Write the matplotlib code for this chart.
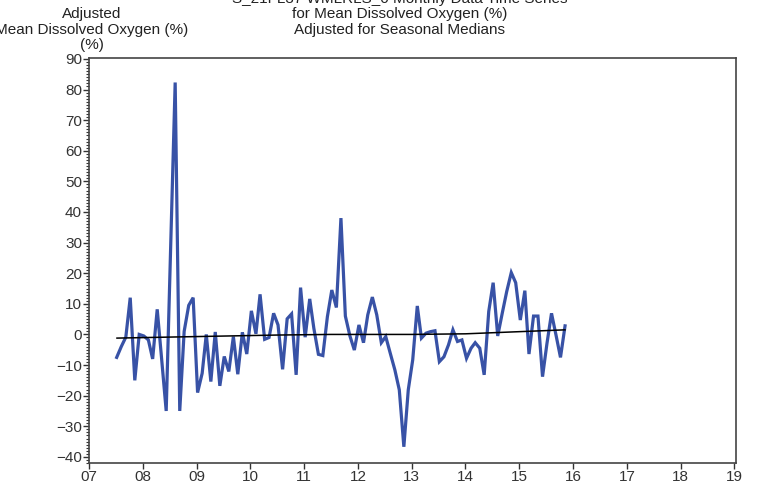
import numpy as np
import pandas as pd
import matplotlib
matplotlib.use("Agg")
import matplotlib.pyplot as plt
from matplotlib.ticker import MultipleLocator, FuncFormatter

plt.rcParams["font.family"] = ["Liberation Sans", "DejaVu Sans"]

# ---------- dados ----------
inicio = "2007-07-01"   # primeiro mes da serie (mensal)
oxigenio_ajustado = [
    -7.5, -4, -0.9, 12, -15, 0, -0.5, -1.8, -8, 8.2,
    -8, -25, 28, 82.3, -25, 1, 9.5, 12, -19, -12.7,
    0, -15.4, 0.8, -16.8, -7.2, -12.1, -0.7, -13, 0.7, -6.4,
    7.7, 0.2, 13.1, -1.6, -1, 6.9, 3.1, -11.4, 5.1, 6.7,
    -13.2, 15.3, -0.9, 11.6, 2, -6.5, -6.9, 5.8, 14.5, 8.8,
    38, 6, -0.5, -5.1, 3.1, -2.7, 6.4, 12.2, 6.4, -2.7,
    -0.7, -6.2, -11.6, -18.1, -36.7, -18.1, -8.3, 9.3, -1.2, 0.4,
    0.9, 1.2, -8.9, -7.3, -3.4, 1.5, -2.3, -1.8, -7.8, -4.5,
    -2.7, -4.5, -13.2, 7.5, 16.9, -0.5, 7, 14, 20.2, 16.9,
    4.7, 14.3, -6.4, 6, 6, -13.8, -3, 6.9, -0.3, -7.5,
    2.8,
]

# linha de tendencia
tendencia_anos = [2007.52, 2009.0, 2010.5, 2011.5, 2013.0, 2014.0, 2015.85]
tendencia_vals = [-1.2, -0.7, -0.2, 0.0, 0.0, 0.2, 1.5]

anos_ticks = list(range(2007, 2020))

datas = pd.date_range(inicio, periods=len(oxigenio_ajustado), freq="MS") + pd.Timedelta(days=7)
anos = datas.year + (datas.dayofyear - 1) / 365.25

# ---------- grafico ----------
fig = plt.figure(figsize=(7.59, 4.87), dpi=100)
ax = fig.add_axes([89 / 759, 1 - 463 / 487, (736 - 89) / 759, (463 - 58) / 487])

ax.plot(anos, oxigenio_ajustado, color="#3852a6", lw=2.3, solid_joinstyle="miter", zorder=2)
ax.plot(tendencia_anos, tendencia_vals, color="black", lw=1.1, zorder=3)

ax.set_xlim(2007, 2019.03)
ax.set_ylim(-42, 90.3)
ax.set_xticks(anos_ticks)
ax.xaxis.set_major_formatter(FuncFormatter(lambda v, p: "%02d" % (int(round(v)) % 100)))
ax.yaxis.set_major_locator(MultipleLocator(10))
ax.yaxis.set_minor_locator(MultipleLocator(1))

for s in ax.spines.values():
    s.set_color("#444444")
    s.set_linewidth(1.2)

ax.tick_params(axis="both", which="major", direction="out", length=4, width=1,
               color="#333333", labelcolor="#333333", labelsize=11, pad=1)
ax.tick_params(axis="y", which="minor", direction="out", length=2.5, width=0.8, color="#333333")

# titulo (primeira linha cortada no topo)
cx = 400 / 759
fig.text(cx, 1 + 1 / 487, "S_21FL37 WMLRLS_0 Monthly Data Time Series", ha="center", va="center",
         fontsize=11, color="#222222")
fig.text(cx, 1 - 14 / 487, "for Mean Dissolved Oxygen (%)", ha="center", va="center",
         fontsize=11, color="#222222")
fig.text(cx, 1 - 30 / 487, "Adjusted for Seasonal Medians", ha="center", va="center",
         fontsize=11, color="#222222")

# rotulo do eixo y
lx = 92 / 759
fig.text(lx, 1 - 14 / 487, "Adjusted", ha="center", va="center", fontsize=11, color="#222222")
fig.text(lx, 1 - 30 / 487, "Mean Dissolved Oxygen (%)", ha="center", va="center", fontsize=11, color="#222222")
fig.text(lx, 1 - 45 / 487, "(%)", ha="center", va="center", fontsize=11, color="#222222")

fig.savefig("out.png", dpi=100)
